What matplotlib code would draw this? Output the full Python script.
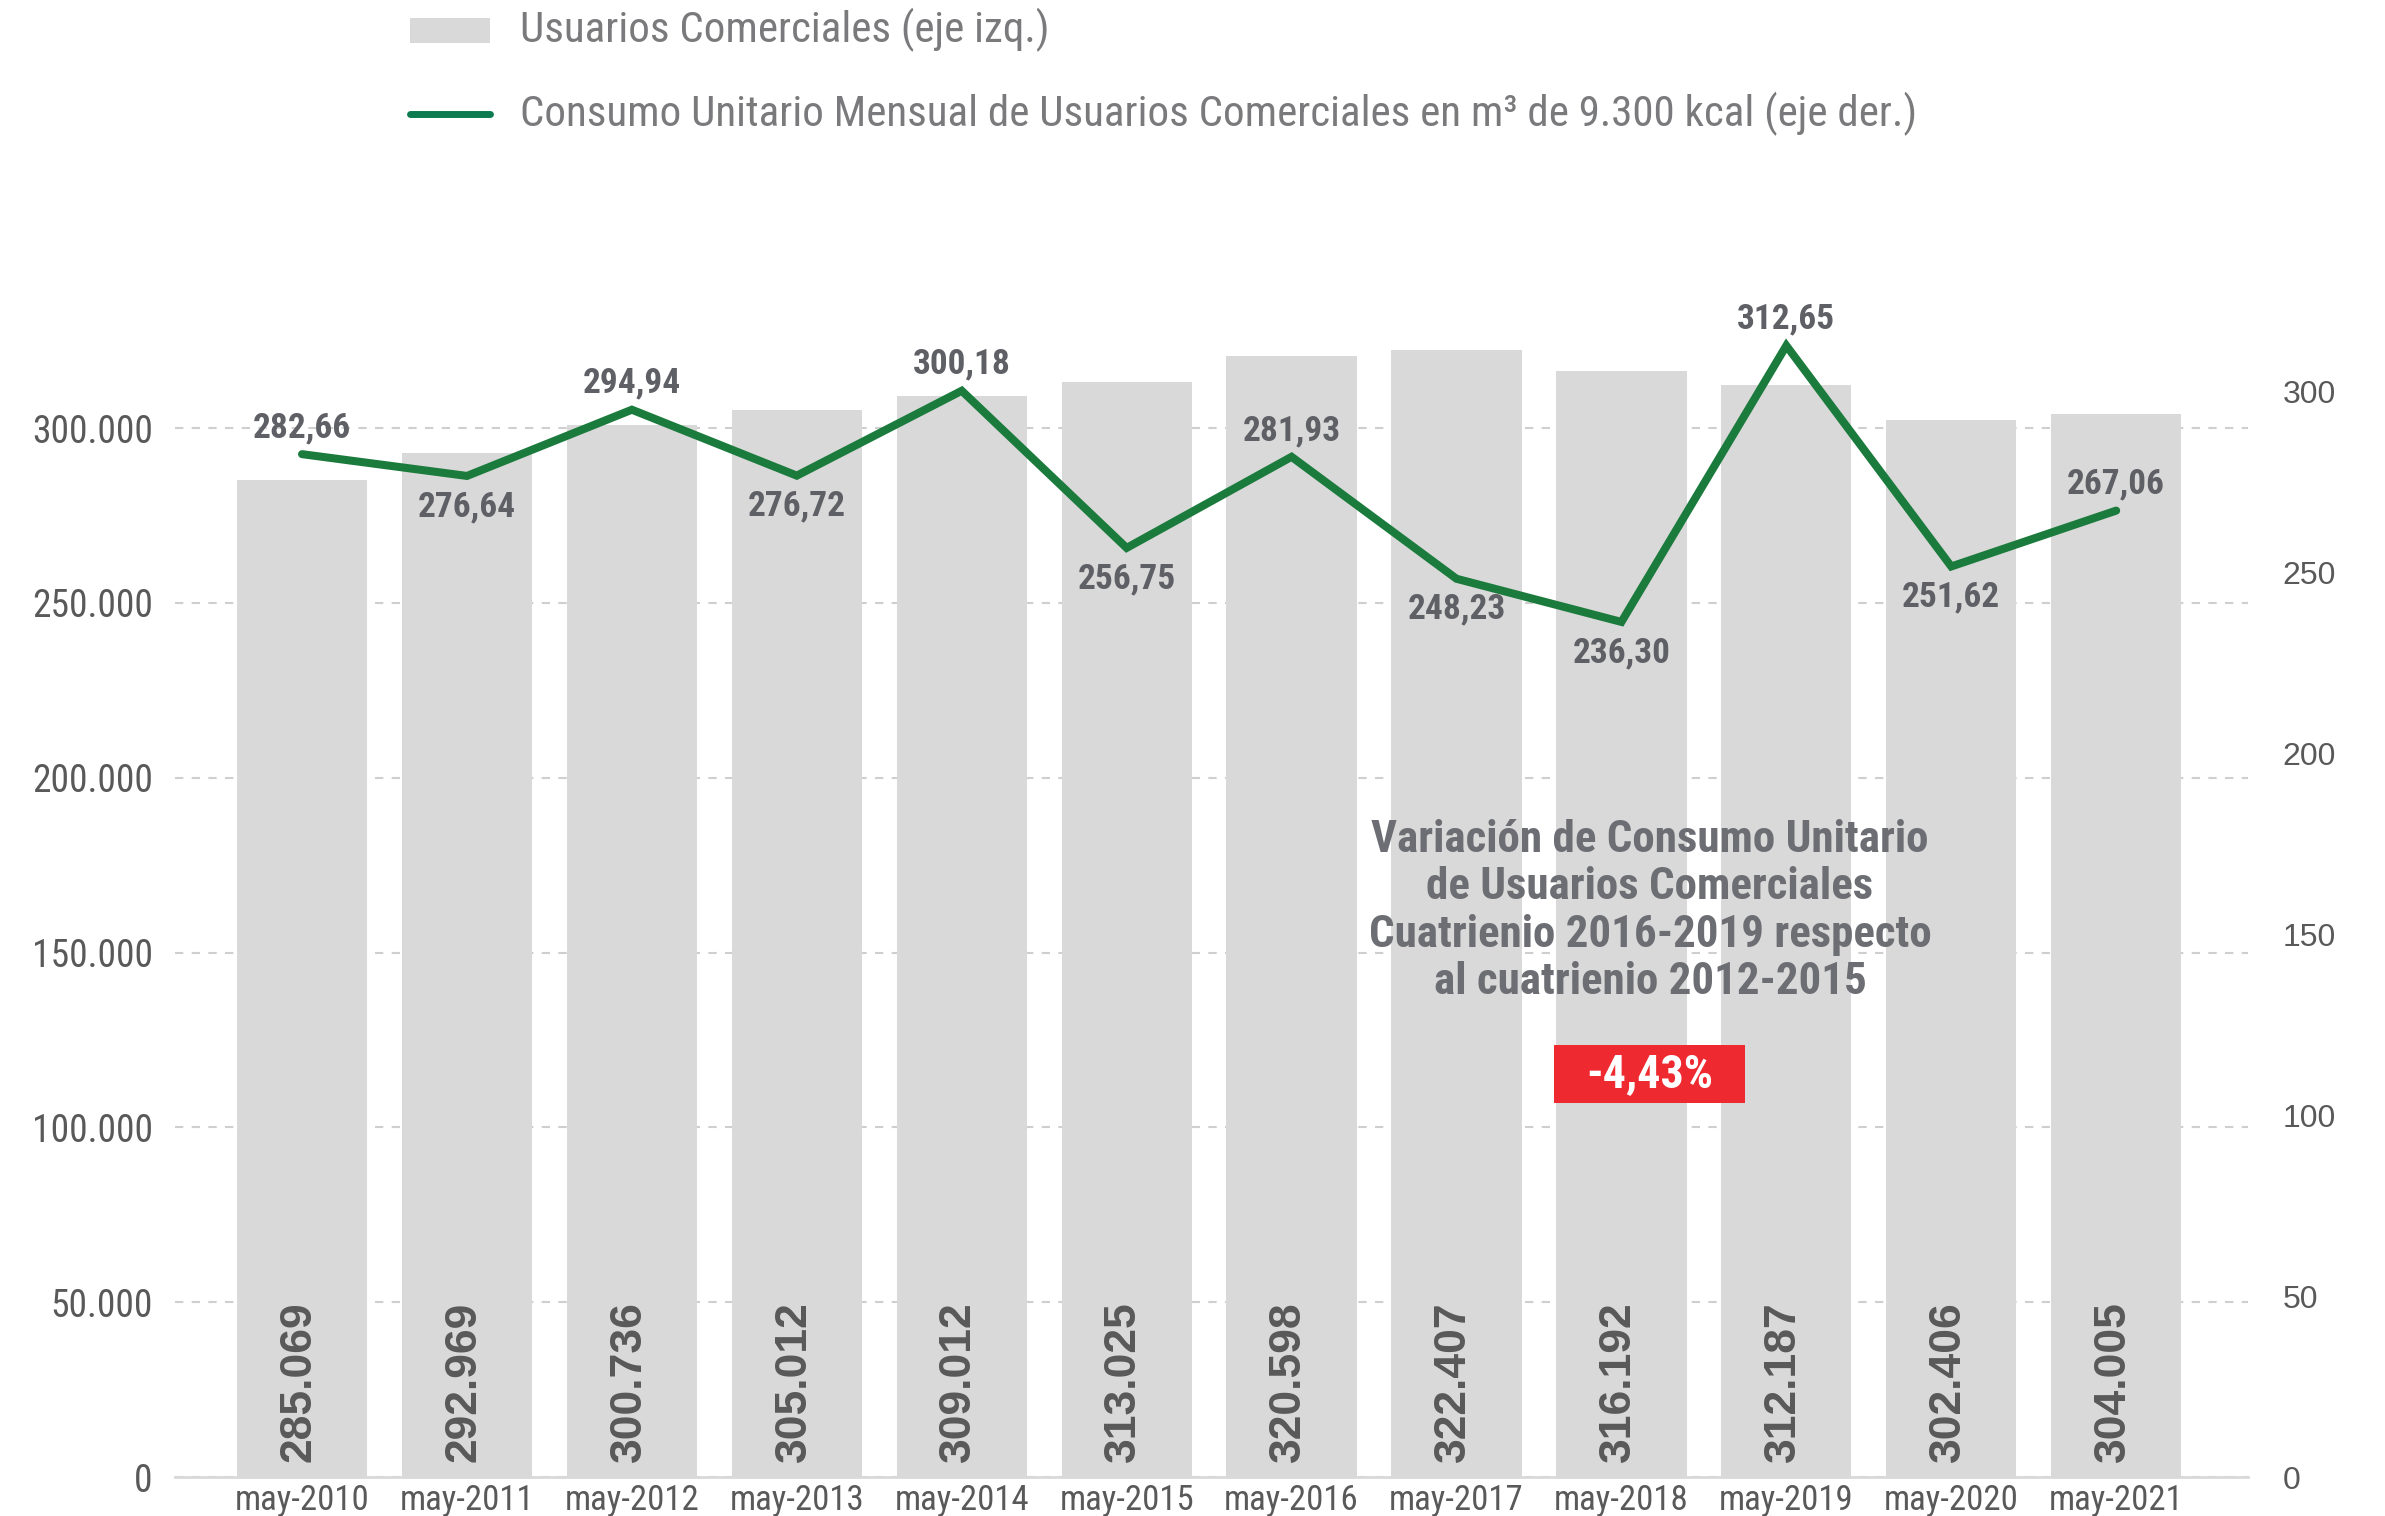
import matplotlib
matplotlib.use("Agg")
import matplotlib.pyplot as plt
from matplotlib.patches import Rectangle
from matplotlib.lines import Line2D

# datos
periodos = ["may-2010", "may-2011", "may-2012", "may-2013", "may-2014", "may-2015",
            "may-2016", "may-2017", "may-2018", "may-2019", "may-2020", "may-2021"]
usuarios = [285069, 292969, 300736, 305012, 309012, 313025,
            320598, 322407, 316192, 312187, 302406, 304005]
consumo = [282.66, 276.64, 294.94, 276.72, 300.18, 256.75,
           281.93, 248.23, 236.30, 312.65, 251.62, 267.06]
ticks_izq = [0, 50000, 100000, 150000, 200000, 250000, 300000]
ticks_der = [0, 50, 100, 150, 200, 250, 300]
variacion = "-4,43%"

# etiquetas del consumo: arriba (1) o abajo (-1) del punto
lado = [1, -1, 1, -1, 1, -1, 1, -1, -1, 1, -1, 1]

cond = "Roboto Condensed"
gris_barra = "#d9d9d9"
verde = "#1b7b3c"
gris_txt = "#5f6066"

fig = plt.figure(figsize=(23.85, 15.16), dpi=100)
ax = fig.add_axes([0.0734, 0.0257, 0.8692, 0.8073])
ax2 = ax.twinx()

x = list(range(len(periodos)))
ax.bar(x, usuarios, width=0.79, color=gris_barra, zorder=2)
ax.set_ylim(0, 350000)
ax.set_xlim(-0.77, len(periodos) - 0.2)
ax.set_yticks(ticks_izq)
ax.set_yticklabels([f"{v:,}".replace(",", ".") for v in ticks_izq],
                   fontfamily=cond, fontsize=27, color="#595959")
ax.set_xticks(x)
ax.set_xticklabels(periodos, fontfamily=cond, fontsize=25, color="#595959")
ax.tick_params(axis="both", length=0)
ax.tick_params(axis="y", pad=16)
ax.tick_params(axis="x", pad=5)
ax.set_axisbelow(True)
ax.yaxis.grid(True, color="#cfcfcf", linestyle=(0, (4, 4)), linewidth=1.5)
for s in ["top", "right", "left"]:
    ax.spines[s].set_visible(False)
ax.spines["bottom"].set_color("#d9d9d9")
ax.spines["bottom"].set_linewidth(2)

for i, v in enumerate(usuarios):
    ax.annotate(f"{v:,}".replace(",", "."), (i, 0), xytext=(-2, 11),
                textcoords="offset points", rotation=90, ha="center", va="bottom",
                fontfamily="Liberation Sans", fontweight="bold", fontsize=32,
                color="#595959", zorder=3)

ax2.plot(x, consumo, color=verde, linewidth=5.8, solid_capstyle="round",
         solid_joinstyle="miter", zorder=5)
ax2.set_ylim(0, 338.2)
ax2.set_yticks(ticks_der)
ax2.set_yticklabels([str(v) for v in ticks_der], fontfamily="Liberation Sans",
                    fontsize=23, color="#595959")
ax2.tick_params(axis="y", length=0, pad=25)
for s in ax2.spines.values():
    s.set_visible(False)

for i, v in enumerate(consumo):
    dy = 19 if lado[i] > 0 else -22
    ax2.annotate(f"{v:.2f}".replace(".", ","), (i, v), xytext=(0, dy),
                 textcoords="offset points", ha="center", va="center",
                 fontfamily=cond, fontweight="bold", fontsize=25.5, color=gris_txt)

# recuadro de variacion
caja = ("Variación de Consumo Unitario\nde Usuarios Comerciales\n"
        "Cuatrienio 2016-2019 respecto\nal cuatrienio 2012-2015")
fig.text(1650 / 2385, 1 - 911 / 1516, caja, ha="center", va="center",
         fontfamily=cond, fontweight="bold", fontsize=32.4, color="#6d6e73",
         linespacing=1.17)
fig.patches.append(Rectangle((1554 / 2385, 1 - 1103 / 1516), 191 / 2385, 58 / 1516,
                             transform=fig.transFigure, facecolor="#ee2a30",
                             edgecolor="none", zorder=10))
fig.text(1650 / 2385, 1 - 1074 / 1516, variacion, ha="center", va="center",
         fontfamily=cond, fontweight="bold", fontsize=33, color="white", zorder=11)

# leyenda
fig.patches.append(Rectangle((410 / 2385, 1 - 43 / 1516), 80 / 2385, 25 / 1516,
                             transform=fig.transFigure, facecolor=gris_barra,
                             edgecolor="none"))
fig.text(520 / 2385, 1 - 30 / 1516, "Usuarios Comerciales (eje izq.)",
         ha="left", va="center", fontfamily=cond, fontsize=31, color="#7a7a7d")
fig.lines.append(Line2D([410 / 2385, 490 / 2385], [1 - 114 / 1516, 1 - 114 / 1516],
                        transform=fig.transFigure, color="#0d7a50", linewidth=5,
                        solid_capstyle="round"))
fig.text(520 / 2385, 1 - 114 / 1516,
         "Consumo Unitario Mensual de Usuarios Comerciales en m³ de 9.300 kcal (eje der.)",
         ha="left", va="center", fontfamily=cond, fontsize=31, color="#7a7a7d")

fig.savefig("out.png", dpi=100)
